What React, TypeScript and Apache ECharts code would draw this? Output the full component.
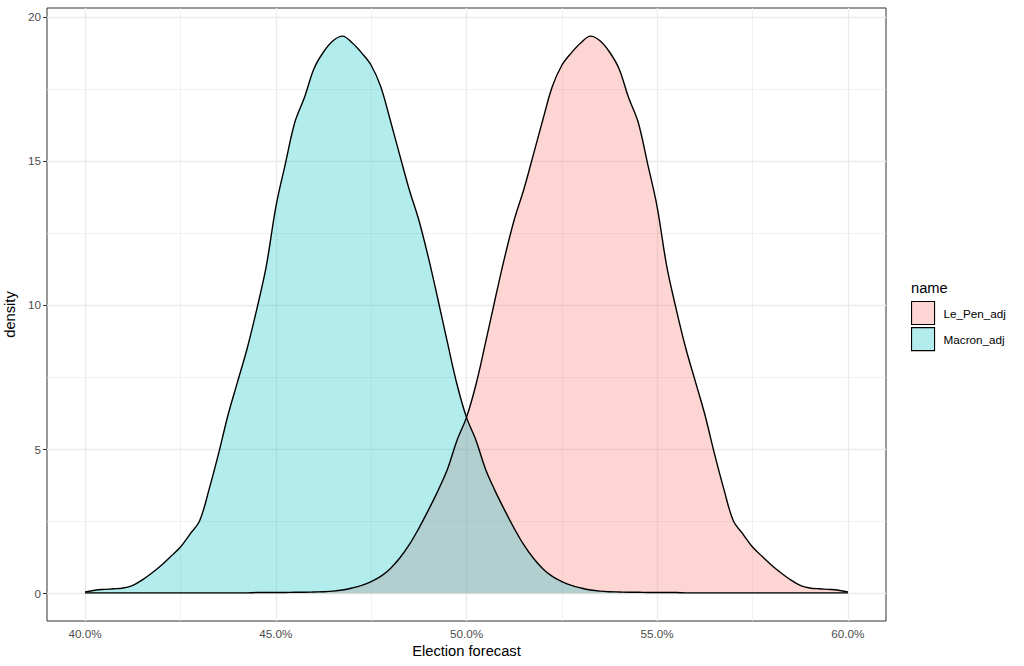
import React, { useEffect, useRef } from "react";
import * as echarts from "echarts";

// Evaluation grid: 40% .. 60% in steps of 0.25 percentage points
const X_GRID: number[] = Array.from({ length: 81 }, (_, i) => 40 + i * 0.25);

const SERIES_NAMES = ["Le_Pen_adj", "Macron_adj"];

const LE_PEN_DENSITY: number[] = [
  0.01, 0.01, 0.01, 0.01, 0.01, 0.01, 0.01, 0.01, 0.01, 0.01,
  0.01, 0.01, 0.01, 0.01, 0.01, 0.01, 0.01, 0.01, 0.02, 0.02,
  0.02, 0.02, 0.03, 0.03, 0.04, 0.05, 0.07, 0.11, 0.18, 0.27,
  0.40, 0.58, 0.85, 1.22, 1.68, 2.25, 2.88, 3.55, 4.30, 5.30,
  6.10, 7.25, 8.70, 10.20, 11.65, 12.95, 14.00, 15.20, 16.42, 17.58,
  18.32, 18.75, 19.10, 19.33, 19.17, 18.78, 18.20, 17.20, 16.35, 14.90,
  13.40, 11.35, 9.85, 8.50, 7.35, 6.20, 4.85, 3.60, 2.50, 2.05,
  1.60, 1.28, 0.97, 0.70, 0.46, 0.27, 0.18, 0.15, 0.13, 0.10,
  0.04,
];

const MACRON_DENSITY: number[] = [
  0.04, 0.10, 0.13, 0.15, 0.18, 0.27, 0.46, 0.70, 0.97, 1.28,
  1.60, 2.05, 2.50, 3.60, 4.85, 6.20, 7.35, 8.50, 9.85, 11.35,
  13.40, 14.90, 16.35, 17.20, 18.20, 18.78, 19.17, 19.33, 19.10, 18.75,
  18.32, 17.58, 16.42, 15.20, 14.00, 12.95, 11.65, 10.20, 8.70, 7.25,
  6.10, 5.30, 4.30, 3.55, 2.88, 2.25, 1.68, 1.22, 0.85, 0.58,
  0.40, 0.27, 0.18, 0.11, 0.07, 0.05, 0.04, 0.03, 0.03, 0.02,
  0.02, 0.02, 0.02, 0.01, 0.01, 0.01, 0.01, 0.01, 0.01, 0.01,
  0.01, 0.01, 0.01, 0.01, 0.01, 0.01, 0.01, 0.01, 0.01, 0.01,
  0.01,
];

const X_MAJOR_TICKS = [40, 45, 50, 55, 60];
const X_MINOR_TICKS = [42.5, 47.5, 52.5, 57.5];
const Y_MAJOR_TICKS = [0, 5, 10, 15, 20];
const Y_MINOR_TICKS = [2.5, 7.5, 12.5, 17.5];

const FILLS = ["rgba(248,118,109,0.3)", "rgba(0,191,196,0.3)"];
const FONT = "'Liberation Sans', Arial, Helvetica, sans-serif";

export default function App() {
  const ref = useRef<HTMLDivElement>(null);

  useEffect(() => {
    if (!ref.current) return;
    const chart = echarts.init(ref.current, undefined, { renderer: "svg" });

    const gridLineData = [
      ...X_MAJOR_TICKS.map((v) => ({ xAxis: v, lineStyle: { color: "#EBEBEB", width: 1.3, type: "solid" } })),
      ...X_MINOR_TICKS.map((v) => ({ xAxis: v, lineStyle: { color: "#EBEBEB", width: 0.7, type: "solid" } })),
      ...Y_MAJOR_TICKS.map((v) => ({ yAxis: v, lineStyle: { color: "#EBEBEB", width: 1.3, type: "solid" } })),
      ...Y_MINOR_TICKS.map((v) => ({ yAxis: v, lineStyle: { color: "#EBEBEB", width: 0.7, type: "solid" } })),
    ];

    const densities = [LE_PEN_DENSITY, MACRON_DENSITY];

    const series: any[] = SERIES_NAMES.map((name, k) => ({
      name,
      type: "line",
      data: X_GRID.map((x, i) => [x, densities[k][i]]),
      symbol: "none",
      smooth: 0.35,
      z: 2,
      itemStyle: { color: FILLS[k] },
      lineStyle: { color: "#000000", width: 1.4 },
      areaStyle: { color: FILLS[k], opacity: 1, origin: 0 },
      emphasis: { disabled: true },
      ...(k === 0
        ? {
            markLine: {
              silent: true,
              z: 1,
              symbol: ["none", "none"],
              label: { show: false },
              emphasis: { disabled: true },
              data: gridLineData,
            },
          }
        : {}),
    }));

    chart.setOption({
      animation: false,
      backgroundColor: "#ffffff",
      textStyle: { fontFamily: FONT },
      grid: {
        left: 47,
        top: 8,
        width: 839,
        height: 613,
        show: true,
        borderColor: "#333333",
        borderWidth: 1,
        backgroundColor: "transparent",
        containLabel: false,
        outerBoundsMode: "none",
      },
      xAxis: {
        type: "value",
        min: 39,
        max: 61,
        name: "Election forecast",
        nameLocation: "middle",
        nameGap: 22,
        nameTextStyle: { color: "#000000", fontSize: 14.7, fontFamily: FONT },
        axisLine: { show: false },
        axisTick: {
          show: true,
          customValues: X_MAJOR_TICKS,
          length: 4,
          lineStyle: { color: "#333333", width: 1 },
        },
        axisLabel: {
          show: true,
          customValues: X_MAJOR_TICKS,
          formatter: (v: number) => v.toFixed(1) + "%",
          color: "#4D4D4D",
          fontSize: 11.7,
          margin: 6,
          fontFamily: FONT,
        },
        splitLine: { show: false },
      },
      yAxis: {
        type: "value",
        min: -0.967,
        max: 20.307,
        name: "density",
        nameLocation: "middle",
        nameGap: 22,
        nameTextStyle: { color: "#000000", fontSize: 14.7, fontFamily: FONT },
        axisLine: { show: false },
        axisTick: {
          show: true,
          customValues: Y_MAJOR_TICKS,
          length: 4,
          lineStyle: { color: "#333333", width: 1 },
        },
        axisLabel: {
          show: true,
          customValues: Y_MAJOR_TICKS,
          formatter: (v: number) => String(v),
          color: "#4D4D4D",
          fontSize: 11.7,
          margin: 6,
          fontFamily: FONT,
        },
        splitLine: { show: false },
      },
      legend: {
        show: true,
        orient: "vertical",
        left: 911,
        top: 301,
        itemWidth: 23,
        itemHeight: 23,
        itemGap: 2,
        icon: "rect",
        padding: 0,
        selectedMode: false,
        textStyle: { color: "#000000", fontSize: 11.7, fontFamily: FONT, padding: [0, 0, 0, 4] },
        data: SERIES_NAMES.map((name, k) => ({
          name,
          icon: "rect",
          itemStyle: { color: FILLS[k], borderColor: "#000000", borderWidth: 1.1 },
        })),
      },
      graphic: [
        {
          type: "text",
          left: 911,
          top: 280,
          style: { text: "name", fill: "#000000", fontSize: 14.7, fontFamily: FONT },
        },
      ],
      series,
    });

    return () => chart.dispose();
  }, []);

  return (
    <div
      ref={ref}
      style={{ position: "fixed", left: 0, top: 0, width: 1024, height: 666, background: "#fff" }}
    />
  );
}
